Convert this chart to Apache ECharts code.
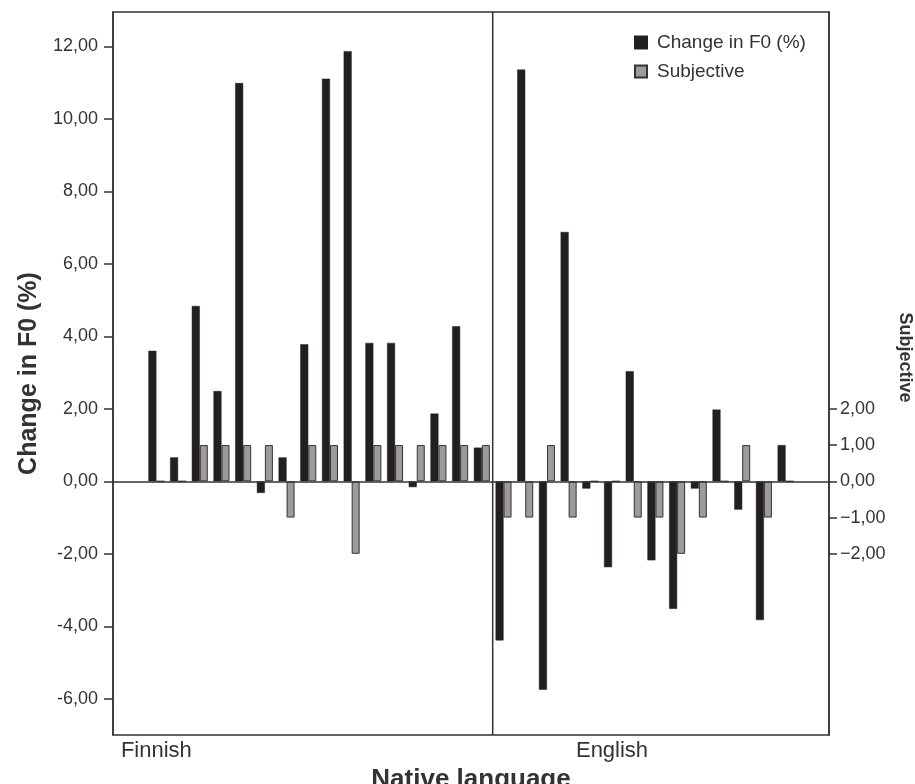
<!DOCTYPE html>
<html>
<head>
<meta charset="utf-8">
<script src="https://cdn.jsdelivr.net/npm/echarts@6/dist/echarts.min.js"></script>
<style>
html,body{margin:0;padding:0;background:#fff;}
#chart{width:915px;height:784px;}
</style>
</head>
<body>
<div id="chart"></div>
<script>
// ---- data ----
const languages = ['Finnish', 'English'];
const finnishF0 = [3.6, 0.66, 4.84, 2.49, 10.99, -0.32, 0.66, 3.78, 11.11, 11.87, 3.82, 3.82, -0.16, 1.87, 4.28, 0.93];
const finnishSubj = [0, 0, 1, 1, 1, 1, -1, 1, 1, -2, 1, 1, 1, 1, 1, 1];
const englishF0 = [-4.39, 11.36, -5.75, 6.88, -0.2, -2.37, 3.04, -2.18, -3.52, -0.2, 1.98, -0.78, -3.83, 1.0];
const englishSubj = [-1, -1, 1, -1, 0, 0, -1, -1, -2, -1, 0, 1, -1, 0];
const leftTicks = [-6, -4, -2, 0, 2, 4, 6, 8, 10, 12];
const rightTicks = [-2, -1, 0, 1, 2];
const seriesNames = ['Change in F0 (%)', 'Subjective'];
const axisNames = { left: 'Change in F0 (%)', right: 'Subjective', bottom: 'Native language' };

// ---- build slots (empty padding slots around the participants) ----
const padBefore = 2, padAfter = 2;
const categories = [];
const f0 = [], subj = [];
for (let i = 0; i < padBefore; i++) { categories.push('pad' + i); f0.push(null); subj.push(null); }
finnishF0.forEach((v, i) => { categories.push('F' + (i + 1)); f0.push(v); subj.push(finnishSubj[i]); });
englishF0.forEach((v, i) => { categories.push('E' + (i + 1)); f0.push(v); subj.push(englishSubj[i]); });
for (let i = 0; i < padAfter; i++) { categories.push('padE' + i); f0.push(null); subj.push(null); }
const labelAt = { 'F1': languages[0], 'E6': languages[1] };

const FONT = "'Liberation Sans', Arial, Helvetica, sans-serif";
const fmt = (v, minus) => {
  const s = Math.abs(v).toFixed(2).replace('.', ',');
  return v < 0 ? minus + s : s;
};

const chart = echarts.init(document.getElementById('chart'), null, { renderer: 'canvas' });
const option = {
  backgroundColor: '#ffffff',
  animation: false,
  textStyle: { fontFamily: FONT },
  grid: {
    left: 113, right: 86, top: 12, bottom: 49,
    containLabel: false, outerBoundsMode: 'none',
    show: true, borderColor: '#333', borderWidth: 1.5, backgroundColor: 'transparent'
  },
  legend: {
    orient: 'vertical', left: 634, top: 33, padding: 0,
    itemWidth: 12, itemHeight: 12, itemGap: 10, icon: 'rect',
    textStyle: { fontSize: 19, color: '#333', fontFamily: FONT, padding: [0, 0, 0, 5] },
    data: seriesNames
  },
  xAxis: {
    type: 'category', data: categories, boundaryGap: false,
    axisLine: { show: false }, axisTick: { show: false }, splitLine: { show: false },
    axisLabel: {
      interval: 0, margin: 5, fontSize: 22, color: '#333', fontFamily: FONT,
      formatter: (v) => labelAt[v] || ''
    },
    name: axisNames.bottom, nameLocation: 'middle', nameGap: 24,
    nameTextStyle: { fontSize: 26, fontWeight: 'bold', color: '#333', fontFamily: FONT }
  },
  yAxis: [
    {
      type: 'value', min: -7, max: 12.95, position: 'left',
      axisLine: { show: true, lineStyle: { color: '#333', width: 1.5 } },
      axisTick: { show: true, inside: false, length: 9, customValues: leftTicks, lineStyle: { color: '#333', width: 1.5 } },
      axisLabel: { customValues: leftTicks, margin: 15, fontSize: 18, color: '#333', fontFamily: FONT, formatter: (v) => fmt(v, '-') },
      splitLine: { show: false },
      name: axisNames.left, nameLocation: 'middle', nameRotate: 90, nameGap: 66,
      nameTextStyle: { fontSize: 25, fontWeight: 'bold', color: '#333', fontFamily: FONT }
    },
    {
      type: 'value', min: -7, max: 12.95, position: 'right',
      axisLine: { show: true, lineStyle: { color: '#333', width: 1.5 } },
      axisTick: { show: true, inside: false, length: 8, customValues: rightTicks, lineStyle: { color: '#333', width: 1.5 } },
      axisLabel: { customValues: rightTicks, margin: 11, fontSize: 18, color: '#333', fontFamily: FONT, formatter: (v) => fmt(v, '\u2212') },
      splitLine: { show: false },
      name: axisNames.right, nameLocation: 'middle', nameRotate: -90, nameGap: 63,
      nameTextStyle: { fontSize: 18, fontWeight: 'bold', color: '#333', fontFamily: FONT, padding: [0, 32, 0, 0] }
    }
  ],
  series: [
    {
      name: seriesNames[0], type: 'bar', yAxisIndex: 0, data: f0,
      barWidth: 8, barGap: '0%',
      itemStyle: { color: '#231f20', borderColor: '#231f20', borderWidth: 0.5 },
      markLine: {
        silent: true, symbol: 'none', animation: false,
        label: { show: false },
        lineStyle: { color: '#333', width: 1.5, type: 'solid' },
        data: [{ yAxis: 0 }]
      }
    },
    {
      name: seriesNames[1], type: 'bar', yAxisIndex: 1, data: subj,
      barWidth: 8, barGap: '0%',
      itemStyle: { color: '#9b9b9b', borderColor: '#333', borderWidth: 1 }
    }
  ]
};
chart.setOption(option);

// divider between the two language groups (midway between last Finnish and first English slot)
const lastF = categories.indexOf('F' + finnishF0.length);
const firstE = categories.indexOf('E1');
const xa = chart.convertToPixel({ xAxisIndex: 0 }, lastF);
const xb = chart.convertToPixel({ xAxisIndex: 0 }, firstE);
const yTop = chart.convertToPixel({ yAxisIndex: 0 }, 12.95);
const yBot = chart.convertToPixel({ yAxisIndex: 0 }, -7);
const xm = (xa + xb) / 2;
chart.setOption({
  graphic: [{
    type: 'line', silent: true,
    shape: { x1: xm, y1: yTop, x2: xm, y2: yBot },
    style: { stroke: '#333', lineWidth: 1.5 }
  }]
});
</script>
</body>
</html>
